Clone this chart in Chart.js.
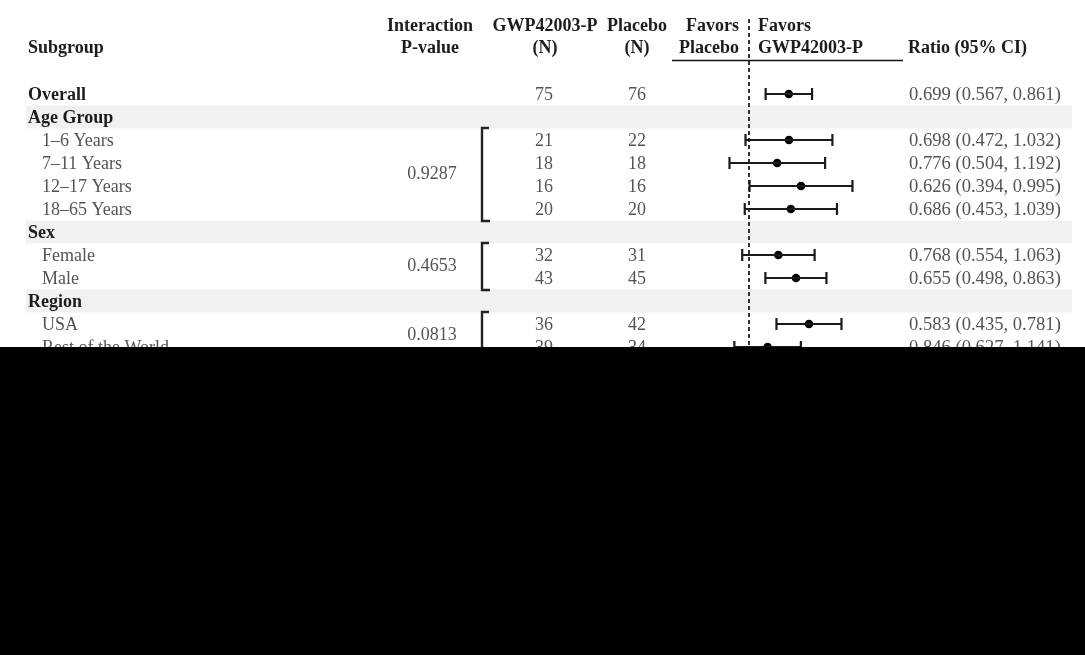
<!DOCTYPE html>
<html>
<head>
<meta charset="utf-8">
<script src="https://cdn.jsdelivr.net/npm/chart.js@4.4.1/dist/chart.umd.min.js"></script>
<style>
  html, body { margin: 0; padding: 0; background: #ffffff; }
  #wrap { position: relative; width: 1085px; height: 655px; overflow: hidden; }
  #forest { display: block; }
  #mask { position: absolute; left: 0; top: 347px; width: 1085px; height: 308px; background: #000; }
</style>
</head>
<body>
<div id="wrap">
  <canvas id="forest" width="1085" height="655"></canvas>
  <div id="mask"></div>
</div>
<script>
// Subgroup rows, top to bottom
const rowLabels = ['Overall', 'Age Group', '1–6 Years', '7–11 Years', '12–17 Years', '18–65 Years',
                   'Sex', 'Female', 'Male', 'Region', 'USA', 'Rest of the World'];
const rowKinds  = ['total', 'group', 'sub', 'sub', 'sub', 'sub', 'group', 'sub', 'sub', 'group', 'sub', 'sub'];
const gwpN      = [75, null, 21, 18, 16, 20, null, 32, 43, null, 36, 39];
const placeboN  = [76, null, 22, 18, 16, 20, null, 31, 45, null, 42, 34];
const ratio     = [0.699, null, 0.698, 0.776, 0.626, 0.686, null, 0.768, 0.655, null, 0.583, 0.846];
const lowerCI   = [0.567, null, 0.472, 0.504, 0.394, 0.453, null, 0.554, 0.498, null, 0.435, 0.627];
const upperCI   = [0.861, null, 1.032, 1.192, 0.995, 1.039, null, 1.063, 0.863, null, 0.781, 1.141];

// Interaction p-values and the rows each bracket spans
const interactionP = ['0.9287', '0.4653', '0.0813'];
const pFirstRow    = [2, 7, 10];
const pLastRow     = [5, 8, 11];

// Ratio axis (log, reversed so lower ratios favour GWP42003-P)
const axisMin = 0.25;
const axisMax = 2;
const refValue = 1;

const SERIF = "'Liberation Serif', 'Times New Roman', serif";
const TEXT = '#545454';
const BOLD = '#1c1c1c';

const rowIdx = rowLabels.map((_, i) => i);
const markRows = rowIdx.filter(i => ratio[i] !== null);

// one whisker dataset per subgroup, caps drawn as vertical line points
const ciSets = markRows.map(i => ({
  type: 'scatter',
  showLine: true,
  data: [{ x: lowerCI[i], y: i }, { x: upperCI[i], y: i }],
  borderColor: '#1a1a1a',
  borderWidth: 2.2,
  pointStyle: 'line',
  rotation: 90,
  pointRadius: 6,
  pointBorderWidth: 2.2,
  pointBorderColor: '#1a1a1a',
  pointHoverRadius: 6
}));

const pointSet = {
  type: 'scatter',
  data: markRows.map(i => ({ x: ratio[i], y: i })),
  pointStyle: 'circle',
  pointRadius: 4.3,
  backgroundColor: '#000000',
  borderColor: '#000000',
  borderWidth: 0
};

const fmt = v => v.toFixed(3);

const tablePlugin = {
  id: 'forestTable',
  beforeDatasetsDraw(chart) {
    const { ctx } = chart;
    const ys = chart.scales.y, xs = chart.scales.x;
    const step = Math.abs(ys.getPixelForValue(1) - ys.getPixelForValue(0));
    ctx.save();
    // shaded group header bands
    ctx.fillStyle = '#f1f1f1';
    rowIdx.forEach(i => {
      if (rowKinds[i] === 'group') {
        const y = ys.getPixelForValue(i);
        ctx.fillRect(26, y - step / 2, 1072 - 26, step);
      }
    });
    // dashed reference line at ratio 1
    const xr = Math.round(xs.getPixelForValue(refValue));
    ctx.strokeStyle = '#333333';
    ctx.lineWidth = 2;
    ctx.setLineDash([4, 3]);
    ctx.beginPath();
    ctx.moveTo(xr, 19);
    ctx.lineTo(xr, chart.height);
    ctx.stroke();
    ctx.restore();
  },
  afterDraw(chart) {
    const { ctx } = chart;
    const ys = chart.scales.y, xs = chart.scales.x;
    const xr = xs.getPixelForValue(refValue);
    const step = Math.abs(ys.getPixelForValue(1) - ys.getPixelForValue(0));
    ctx.save();
    ctx.textBaseline = 'middle';

    // column headers
    const h1 = 26, h2 = 48;
    ctx.fillStyle = BOLD;
    ctx.font = 'bold 18px ' + SERIF;
    ctx.textAlign = 'left';
    ctx.fillText('Subgroup', 28, h2);
    ctx.textAlign = 'center';
    ctx.fillText('Interaction', 430, h1);
    ctx.fillText('P-value', 430, h2);
    ctx.fillText('GWP42003-P', 545, h1);
    ctx.fillText('(N)', 545, h2);
    ctx.fillText('Placebo', 637, h1);
    ctx.fillText('(N)', 637, h2);
    ctx.textAlign = 'right';
    ctx.fillText('Favors', xr - 10, h1);
    ctx.fillText('Placebo', xr - 10, h2);
    ctx.textAlign = 'left';
    ctx.fillText('Favors', xr + 9, h1);
    ctx.fillText('GWP42003-P', xr + 9, h2);
    ctx.fillText('Ratio (95% CI)', 908, h2);

    // rule under the plot header
    ctx.strokeStyle = '#111111';
    ctx.lineWidth = 1.6;
    ctx.beginPath();
    ctx.moveTo(chart.chartArea.left, 60.5);
    ctx.lineTo(chart.chartArea.right, 60.5);
    ctx.stroke();

    // rows
    rowIdx.forEach(i => {
      const y = ys.getPixelForValue(i) + 1;
      if (rowKinds[i] === 'sub') {
        ctx.font = '18px ' + SERIF;
        ctx.fillStyle = TEXT;
        ctx.textAlign = 'left';
        ctx.fillText(rowLabels[i], 42, y);
      } else {
        ctx.font = 'bold 18px ' + SERIF;
        ctx.fillStyle = BOLD;
        ctx.textAlign = 'left';
        ctx.fillText(rowLabels[i], 28, y);
      }
      ctx.font = '18px ' + SERIF;
      ctx.fillStyle = TEXT;
      if (gwpN[i] !== null) {
        ctx.textAlign = 'center';
        ctx.fillText(String(gwpN[i]), 544, y);
        ctx.fillText(String(placeboN[i]), 637, y);
      }
      if (ratio[i] !== null) {
        ctx.font = '18.6px ' + SERIF;
        ctx.textAlign = 'left';
        ctx.fillText(fmt(ratio[i]) + ' (' + fmt(lowerCI[i]) + ', ' + fmt(upperCI[i]) + ')', 909, y);
      }
    });

    // interaction p-values with brackets
    interactionP.forEach((p, k) => {
      const yTop = ys.getPixelForValue(pFirstRow[k]) - step / 2 - 0.5;
      const yBot = ys.getPixelForValue(pLastRow[k]) + step / 2 + 0.5;
      ctx.font = '18px ' + SERIF;
      ctx.fillStyle = TEXT;
      ctx.textAlign = 'center';
      ctx.fillText(p, 432, (yTop + yBot) / 2);
      ctx.strokeStyle = '#222222';
      ctx.lineWidth = 2.4;
      ctx.beginPath();
      ctx.moveTo(489, yTop);
      ctx.lineTo(482, yTop);
      ctx.lineTo(482, yBot);
      ctx.lineTo(490, yBot);
      ctx.stroke();
    });
    ctx.restore();
  }
};

new Chart(document.getElementById('forest'), {
  type: 'scatter',
  data: { datasets: [...ciSets, pointSet] },
  options: {
    responsive: false,
    animation: false,
    events: [],
    layout: { padding: { left: 672, right: 182, top: 71, bottom: 262 } },
    plugins: { legend: { display: false }, tooltip: { enabled: false } },
    scales: {
      x: { type: 'logarithmic', min: axisMin, max: axisMax, reverse: true, display: false },
      y: { type: 'linear', min: -1, max: 13, reverse: true, display: false }
    }
  },
  plugins: [tablePlugin]
});
</script>
</body>
</html>
